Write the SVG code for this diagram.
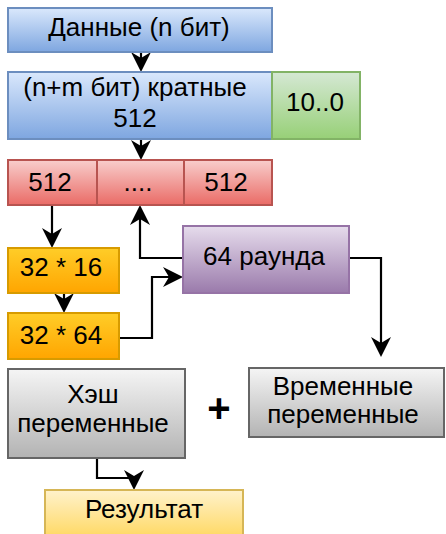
<svg xmlns="http://www.w3.org/2000/svg" xmlns:xlink="http://www.w3.org/1999/xlink" width="446" height="534" viewBox="0 0 446 534">
<style>
text{font-family:"Liberation Sans",Arial,sans-serif;font-size:26px;fill:#000;text-anchor:middle}
.b{stroke-width:2}
.ln{fill:none;stroke:#000;stroke-width:2.2}
</style>
<defs>
<linearGradient id="gBlue" x1="0" y1="0" x2="0" y2="1"><stop offset="0" stop-color="#dae8fc"/><stop offset="1" stop-color="#7ea6e0"/></linearGradient>
<linearGradient id="gGreen" x1="0" y1="0" x2="0" y2="1"><stop offset="0" stop-color="#d5e8d4"/><stop offset="1" stop-color="#97d077"/></linearGradient>
<linearGradient id="gRed" x1="0" y1="0" x2="0" y2="1"><stop offset="0" stop-color="#f8cecc"/><stop offset="1" stop-color="#ea6b66"/></linearGradient>
<linearGradient id="gOrange" x1="0" y1="0" x2="0" y2="1"><stop offset="0" stop-color="#ffcd28"/><stop offset="1" stop-color="#ffa500"/></linearGradient>
<linearGradient id="gPurple" x1="0" y1="0" x2="0" y2="1"><stop offset="0" stop-color="#e6dcec"/><stop offset="1" stop-color="#9a7aab"/></linearGradient>
<linearGradient id="gGray" x1="0" y1="0" x2="0" y2="1"><stop offset="0" stop-color="#f5f5f5"/><stop offset="1" stop-color="#b3b3b3"/></linearGradient>
<linearGradient id="gYellow" x1="0" y1="0" x2="0" y2="1"><stop offset="0" stop-color="#fff2cc"/><stop offset="1" stop-color="#ffd966"/></linearGradient>
<path id="ah" d="M0,0 L-20,-10 L-14,0 L-20,10 Z" fill="#000"/>
</defs>

<g id="connectors">
<path class="ln" d="M141,52 V58"/>
<use xlink:href="#ah" transform="translate(141,72) rotate(90)"/>
<path class="ln" d="M141,139 V146"/>
<use xlink:href="#ah" transform="translate(141,160) rotate(90)"/>
<path class="ln" d="M52,205 V234"/>
<use xlink:href="#ah" transform="translate(52,248) rotate(90)"/>
<path class="ln" d="M64,293 V299"/>
<use xlink:href="#ah" transform="translate(64,313) rotate(90)"/>
<path class="ln" d="M119,338 H152 V277 H169"/>
<use xlink:href="#ah" transform="translate(183,277)"/>
<path class="ln" d="M183,258 H140 V219"/>
<use xlink:href="#ah" transform="translate(140,205) rotate(-90)"/>
<path class="ln" d="M349,258 H381 V343"/>
<use xlink:href="#ah" transform="translate(381,357) rotate(90)"/>
<path class="ln" d="M97,458 V478 H134"/>
<use xlink:href="#ah" transform="translate(134,490) rotate(90)"/>
</g>

<g id="n-data">
<rect class="b" x="8" y="8" width="264" height="44" fill="url(#gBlue)" stroke="#6c8ebf"/>
<text x="139" y="36">Данные (n бит)</text>
</g>
<g id="n-padded">
<rect class="b" x="8" y="72" width="264" height="67" fill="url(#gBlue)" stroke="#6c8ebf"/>
<text x="135" y="96">(n+m бит) кратные</text>
<text x="135" y="127">512</text>
</g>
<g id="n-bits">
<rect class="b" x="272" y="72" width="88" height="67" fill="url(#gGreen)" stroke="#82b366"/>
<text x="315" y="111">10..0</text>
</g>
<g id="n-block1">
<rect class="b" x="8" y="160" width="89" height="45" fill="url(#gRed)" stroke="#b85450"/>
<text x="50" y="191">512</text>
</g>
<g id="n-blockdots">
<rect class="b" x="97" y="160" width="87" height="45" fill="url(#gRed)" stroke="#b85450"/>
<text x="138" y="191">....</text>
</g>
<g id="n-block2">
<rect class="b" x="184" y="160" width="88" height="45" fill="url(#gRed)" stroke="#b85450"/>
<text x="226" y="191">512</text>
</g>
<g id="n-w16">
<rect class="b" x="8" y="248" width="111" height="45" fill="url(#gOrange)" stroke="#d79b00"/>
<text x="61" y="276">32 * 16</text>
</g>
<g id="n-w64">
<rect class="b" x="8" y="313" width="111" height="46" fill="url(#gOrange)" stroke="#d79b00"/>
<text x="61" y="344">32 * 64</text>
</g>
<g id="n-rounds">
<rect class="b" x="183" y="226" width="166" height="67" fill="url(#gPurple)" stroke="#9673a6"/>
<text x="264" y="265">64 раунда</text>
</g>
<g id="n-hash">
<rect class="b" x="8" y="369" width="177" height="89" fill="url(#gGray)" stroke="#666666"/>
<text x="93" y="403">Хэш</text>
<text x="93" y="432">переменные</text>
</g>
<g id="n-plus">
<text x="219" y="422" style="font-size:40px;font-weight:bold">+</text>
</g>
<g id="n-temp">
<rect class="b" x="249" y="368" width="195" height="69" fill="url(#gGray)" stroke="#666666"/>
<text x="343" y="395">Временные</text>
<text x="343" y="423">переменные</text>
</g>
<g id="n-result">
<rect class="b" x="45" y="490" width="198" height="46" fill="url(#gYellow)" stroke="#d6b656"/>
<text x="144" y="518">Результат</text>
</g>
</svg>
